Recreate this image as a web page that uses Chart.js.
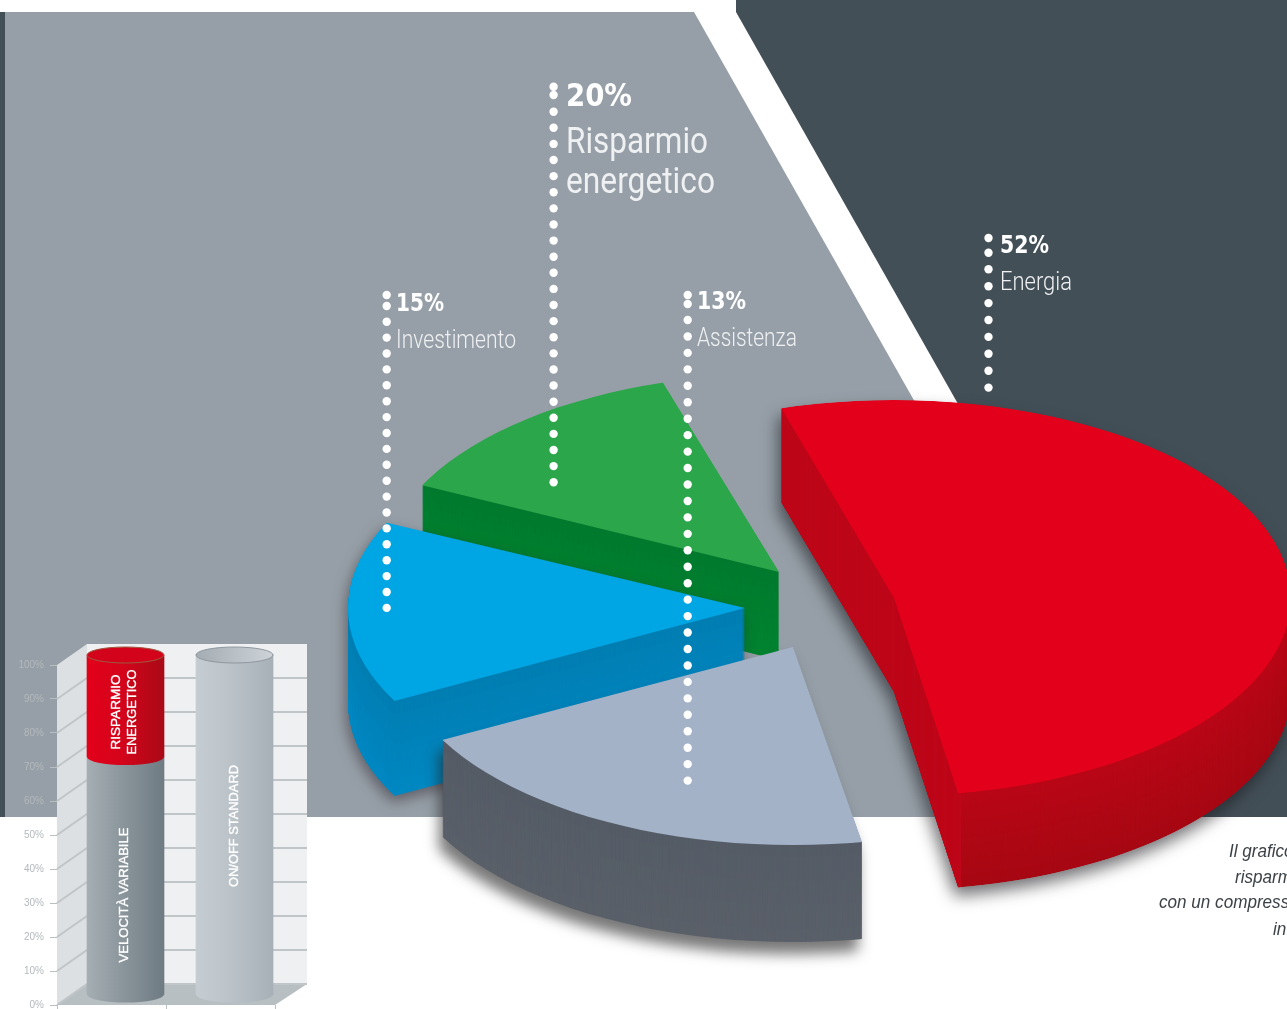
<!DOCTYPE html>
<html lang="it">
<head>
<meta charset="utf-8">
<title>Costi del compressore</title>
<script src="https://cdn.jsdelivr.net/npm/chart.js@4"></script>
<style>
  html, body { margin: 0; padding: 0; background: #fff; overflow: hidden; }
  #page { position: relative; width: 1287px; height: 1009px; overflow: hidden; }
  #pieChart { position: absolute; left: 0; top: 0; }
  #barChart { position: absolute; left: 0; top: 640px; }
</style>
</head>
<body>
<div id="page">
  <canvas id="pieChart" width="1287" height="1009"></canvas>
  <canvas id="barChart" width="320" height="377"></canvas>
</div>
<script>
// cost split
const costNames = ["Energia", "Assistenza", "Investimento", "Risparmio energetico"];
const costValues = [52, 13, 15, 20];

// small cylinder chart
const barCategories = ["Velocità variabile", "On/off standard"];
const baseValues = [70, 100];
const savingValues = [30, 0];
const yTicks = [0, 10, 20, 30, 40, 50, 60, 70, 80, 90, 100];
const captionLines = ["Il grafico", "risparmio", "con un compressore", "in"];

const TAU = Math.PI * 2;
const DEG = Math.PI / 180;
const FONT_BOLD = '"DejaVu Sans Condensed", "DejaVu Sans", sans-serif';
const FONT_LIGHT = 'Roboto, "Liberation Sans", sans-serif';

// every slice sits on the same tilted disc, pulled apart from the others
const discA = 397;
const discB = 198;
const sliceLook = [
  { x: 894, y: 598, depth: 94, top: "#e2001a", wall: ["#b90717", "#a60813"], innerWall: "#bd0719", innerX: 961,
    shadow: [-3, 9, 16, "rgba(25,25,30,0.6)"] },
  { x: 793, y: 647, from: 80, to: 152, depth: 97, top: "#a4b2c8", wall: ["#555c66", "#5a6069"],
    shadow: [-4, 12, 14, "rgba(30,30,30,0.6)"] },
  { x: 745, y: 608, from: 152, to: 205.5, depth: 95, top: "#00a6e3", wall: ["#007eb2", "#0088c2"],
    shadow: [-2, 6, 14, "rgba(40,30,40,0.5)"] },
  { x: 779, y: 572, from: 206, to: 253, depth: 88, top: "#2ca64a", wall: ["#007a2e", "#008431"] }
];
const paintOrder = [3, 2, 1, 0];

const labelLook = [
  { x: 1000, y: 253, w: 49, size: 24, nameX: 1000, nameY: 290, nameW: [72], nameSize: 25, nameWeight: 300 },
  { x: 697, y: 309, w: 49, size: 24, nameX: 697, nameY: 346, nameW: [100], nameSize: 25, nameWeight: 300 },
  { x: 396, y: 311, w: 48, size: 24, nameX: 396, nameY: 348, nameW: [120], nameSize: 25, nameWeight: 300 },
  { x: 566, y: 106, w: 66, size: 32, nameX: 566, nameY: 153, nameW: [142, 149], nameSize: 36, nameWeight: 400, lineGap: 40 }
];

const leaders = [
  { x: 988.5, head: [238, 252.7], first: 269.3, step: 16.9, count: 8 },
  { x: 687.7, head: [295, 304], first: 320, step: 16.45, count: 29 },
  { x: 386.7, head: [295, 306], first: 321.7, step: 15.9, count: 19 },
  { x: 553.6, head: [86.7, 95], first: 111.7, step: 16.11, count: 24 }
];

function mix(a, b, t) {
  const pa = parseInt(a.slice(1), 16), pb = parseInt(b.slice(1), 16);
  const ch = function (s) {
    const ca = (pa >> s) & 255, cb = (pb >> s) & 255;
    return Math.round(ca + (cb - ca) * t);
  };
  return "rgb(" + ch(16) + "," + ch(8) + "," + ch(0) + ")";
}

function drawText(ctx, text, x, y, font, color, width, sx) {
  ctx.save();
  ctx.font = font;
  ctx.fillStyle = color;
  ctx.textAlign = "left";
  ctx.textBaseline = "alphabetic";
  const scale = width ? width / ctx.measureText(text).width : (sx || 1);
  ctx.translate(x, y);
  ctx.scale(scale, 1);
  ctx.fillText(text, 0, 0);
  ctx.restore();
}

// matrix taking the arc's own radius onto the tilted disc
function sliceMatrix(arc, look) {
  const R = arc.outerRadius;
  if (look.from === undefined) {
    return [discA / R, 0, 0, discB / R];
  }
  const reach = 1.35;
  const s = arc.startAngle, e = arc.endAngle;
  const vfx = reach * discA * Math.cos(look.from * DEG), vfy = reach * discB * Math.sin(look.from * DEG);
  const vtx = reach * discA * Math.cos(look.to * DEG), vty = reach * discB * Math.sin(look.to * DEG);
  const usx = R * Math.cos(s), usy = R * Math.sin(s);
  const uex = R * Math.cos(e), uey = R * Math.sin(e);
  const det = usx * uey - uex * usy;
  return [
    (vfx * uey - vtx * usy) / det,
    (vfy * uey - vty * usy) / det,
    (vtx * usx - vfx * uex) / det,
    (vty * usx - vfy * uex) / det
  ];
}

function paintSlice(target, arc, look, m, drop, color) {
  const clone = Object.create(arc);
  clone.options = {
    backgroundColor: color, borderColor: color, borderWidth: 0, borderAlign: "center",
    borderRadius: 0, offset: 0, spacing: 0, circular: true
  };
  target.save();
  target.beginPath();
  target.ellipse(look.x, look.y + drop, discA, discB, 0, 0, TAU);
  target.clip();
  target.transform(m[0], m[1], m[2], m[3], look.x, look.y + drop);
  target.translate(-arc.x, -arc.y);
  clone.draw(target);
  target.restore();
}

const panelPlugin = {
  id: "panels",
  beforeDraw(chart) {
    const ctx = chart.ctx;
    ctx.save();
    ctx.fillStyle = "#ffffff";
    ctx.fillRect(0, 0, 1287, 1009);
    ctx.fillStyle = "#434f57";
    ctx.fillRect(0, 12, 6, 805);
    ctx.beginPath();
    ctx.moveTo(736, 0);
    ctx.lineTo(1287, 0);
    ctx.lineTo(1287, 817);
    ctx.lineTo(1192, 817);
    ctx.lineTo(736, 12);
    ctx.closePath();
    ctx.fill();
    ctx.fillStyle = "#969fa7";
    ctx.beginPath();
    ctx.moveTo(5, 12);
    ctx.lineTo(694, 12);
    ctx.lineTo(1150, 817);
    ctx.lineTo(5, 817);
    ctx.closePath();
    ctx.fill();
    ctx.restore();
  }
};

const solidPiePlugin = {
  id: "solidPie",
  beforeDatasetDraw(chart, args) {
    const arcs = chart.getDatasetMeta(args.index).data;
    paintOrder.forEach(function (i) {
      const look = sliceLook[i], arc = arcs[i];
      const m = sliceMatrix(arc, look);
      const layer = document.createElement("canvas");
      layer.width = chart.width;
      layer.height = chart.height;
      const lc = layer.getContext("2d");
      for (let k = look.depth; k >= 1; k--) {
        paintSlice(lc, arc, look, m, k, mix(look.wall[0], look.wall[1], k / look.depth));
      }
      if (look.innerWall) {
        lc.save();
        lc.beginPath();
        lc.rect(0, 0, look.innerX, chart.height);
        lc.clip();
        for (let k = look.depth; k >= 1; k--) {
          paintSlice(lc, arc, look, m, k, look.innerWall);
        }
        lc.restore();
      }
      paintSlice(lc, arc, look, m, 0, look.top);
      const ctx = chart.ctx;
      ctx.save();
      if (look.shadow) {
        ctx.shadowOffsetX = look.shadow[0];
        ctx.shadowOffsetY = look.shadow[1];
        ctx.shadowBlur = look.shadow[2];
        ctx.shadowColor = look.shadow[3];
      }
      ctx.drawImage(layer, 0, 0);
      ctx.restore();
    });
    return false;
  },
  afterDraw(chart) {
    const ctx = chart.ctx;
    // dotted leaders
    ctx.save();
    ctx.fillStyle = "#ffffff";
    leaders.forEach(function (l) {
      const ys = l.head.slice();
      for (let i = 0; i < l.count; i++) ys.push(l.first + i * l.step);
      ys.forEach(function (y) {
        ctx.beginPath();
        ctx.arc(l.x, y, 4.2, 0, TAU);
        ctx.fill();
      });
    });
    ctx.restore();
    // value and name next to each leader
    costNames.forEach(function (name, i) {
      const l = labelLook[i];
      drawText(ctx, costValues[i] + "%", l.x, l.y, "bold " + l.size + "px " + FONT_BOLD, "#ffffff", l.w);
      const lines = l.nameW.length > 1 ? name.split(" ") : [name];
      lines.forEach(function (line, n) {
        drawText(ctx, line, l.nameX, l.nameY + n * (l.lineGap || 0), l.nameWeight + " " + l.nameSize + "px " + FONT_LIGHT, "#eef0f2", l.nameW[n]);
      });
    });
    const capFont = 'italic 19px "Liberation Sans", sans-serif';
    drawText(ctx, captionLines[0], 1229, 857, capFont, "#3c4247", 0, 0.9);
    drawText(ctx, captionLines[1], 1235, 883, capFont, "#3c4247", 0, 0.9);
    drawText(ctx, captionLines[2], 1159, 908, capFont, "#3c4247", 0, 0.9);
    drawText(ctx, captionLines[3], 1273, 935, capFont, "#3c4247", 0, 0.9);
  }
};

new Chart(document.getElementById("pieChart"), {
  type: "pie",
  data: {
    labels: costNames,
    datasets: [{ data: costValues, backgroundColor: sliceLook.map(function (s) { return s.top; }), borderWidth: 0 }]
  },
  options: {
    responsive: false,
    animation: false,
    rotation: -16.5,
    plugins: { legend: { display: false }, tooltip: { enabled: false } }
  },
  plugins: [panelPlugin, solidPiePlugin]
});

// cylinder chart: bars are pushed back half the depth of the box
const boxDepthX = 30;
const boxDepthY = 21;
const barShiftX = 14;
const barShiftY = -10;
const barWidth = 77;
const capHeight = 8;
const baseStops = [["#a5aeb3", "#8b969c", "#6f7b83"], ["#c6cdd2", "#bbc3c9", "#a7b0b7"]];
const savingStops = ["#e3001a", "#d4041b", "#a90a16"];

function cylinderFill(chart, index, stops) {
  const cx = chart.scales.x.getPixelForValue(index);
  const g = chart.ctx.createLinearGradient(cx - barWidth / 2, 0, cx + barWidth / 2, 0);
  g.addColorStop(0, stops[0]);
  g.addColorStop(0.45, stops[1]);
  g.addColorStop(1, stops[2]);
  return g;
}

const boxPlugin = {
  id: "box",
  beforeDraw(chart) {
    const ctx = chart.ctx, a = chart.chartArea, y = chart.scales.y;
    const bx = a.left + boxDepthX;
    const rightEdge = 307;
    ctx.save();
    ctx.fillStyle = "#eff0f2";
    ctx.fillRect(bx, a.top - boxDepthY, rightEdge - bx, a.bottom - a.top);
    ctx.fillStyle = "#dce0e3";
    ctx.beginPath();
    ctx.moveTo(a.left, a.top);
    ctx.lineTo(bx, a.top - boxDepthY);
    ctx.lineTo(bx, a.bottom - boxDepthY);
    ctx.lineTo(a.left, a.bottom);
    ctx.closePath();
    ctx.fill();
    ctx.fillStyle = "#b8bfc3";
    ctx.beginPath();
    ctx.moveTo(a.left, a.bottom);
    ctx.lineTo(bx, a.bottom - boxDepthY);
    ctx.lineTo(rightEdge, a.bottom - boxDepthY);
    ctx.lineTo(a.right, a.bottom);
    ctx.closePath();
    ctx.fill();
    ctx.strokeStyle = "#c0c5c8";
    ctx.lineWidth = 2;
    yTicks.forEach(function (v) {
      if (v === 100) return;
      const py = y.getPixelForValue(v);
      ctx.beginPath();
      ctx.moveTo(a.left, py);
      ctx.lineTo(bx, py - boxDepthY);
      ctx.lineTo(rightEdge, py - boxDepthY);
      ctx.stroke();
    });
    ctx.restore();
  },
  beforeDatasetDraw(chart) {
    chart.ctx.save();
    chart.ctx.translate(barShiftX, barShiftY);
  },
  afterDatasetDraw(chart) {
    chart.ctx.restore();
  },
  afterDatasetsDraw(chart) {
    const ctx = chart.ctx;
    const base = chart.getDatasetMeta(0).data;
    const saving = chart.getDatasetMeta(1).data;
    ctx.save();
    ctx.translate(barShiftX, barShiftY);
    barCategories.forEach(function (c, i) {
      const bar = base[i];
      ctx.fillStyle = cylinderFill(chart, i, baseStops[i]);
      ctx.beginPath();
      ctx.ellipse(bar.x, bar.base, barWidth / 2, capHeight, 0, 0, TAU);
      ctx.fill();
      if (savingValues[i] > 0) {
        const red = saving[i];
        ctx.fillStyle = cylinderFill(chart, i, savingStops);
        ctx.beginPath();
        ctx.ellipse(red.x, red.base, barWidth / 2, capHeight, 0, 0, TAU);
        ctx.fill();
        ctx.fillStyle = "#d3031c";
        ctx.strokeStyle = "#9c5a3f";
        ctx.beginPath();
        ctx.ellipse(red.x, red.y, barWidth / 2, capHeight, 0, 0, TAU);
        ctx.fill();
        ctx.stroke();
      } else {
        const top = ctx.createLinearGradient(bar.x - barWidth / 2, 0, bar.x + barWidth / 2, 0);
        top.addColorStop(0, "#a4adb3");
        top.addColorStop(1, "#cdd3d8");
        ctx.fillStyle = top;
        ctx.strokeStyle = "#8f989e";
        ctx.beginPath();
        ctx.ellipse(bar.x, bar.y, barWidth / 2, capHeight, 0, 0, TAU);
        ctx.fill();
        ctx.stroke();
      }
    });
    ctx.restore();
    const font = '13.5px "Liberation Sans", sans-serif';
    upText(ctx, "VELOCITÀ VARIABILE", 124, 895, font, 135);
    upText(ctx, "ON/OFF STANDARD", 234, 826, font, 122);
    upText(ctx, "RISPARMIO", 116, 712, font, 75);
    upText(ctx, "ENERGETICO", 132, 712, font, 85);
  }
};

// page coordinates, rotated to read bottom to top
function upText(ctx, text, x, pageY, font, width) {
  ctx.save();
  ctx.translate(x, pageY - 640);
  ctx.rotate(-Math.PI / 2);
  ctx.font = font;
  ctx.textAlign = "center";
  ctx.textBaseline = "middle";
  ctx.fillStyle = "#ffffff";
  ctx.strokeStyle = "#ffffff";
  ctx.lineWidth = 0.35;
  ctx.scale(width / ctx.measureText(text).width, 1);
  ctx.fillText(text, 0, 0);
  ctx.strokeText(text, 0, 0);
  ctx.restore();
}

new Chart(document.getElementById("barChart"), {
  type: "bar",
  data: {
    labels: barCategories,
    datasets: [
      {
        label: "Base",
        data: baseValues,
        clip: false,
        barThickness: barWidth,
        borderWidth: 0,
        backgroundColor: function (c) {
          return c.chart.chartArea ? cylinderFill(c.chart, c.dataIndex, baseStops[c.dataIndex]) : "#8b969c";
        }
      },
      {
        label: "Risparmio energetico",
        data: savingValues,
        clip: false,
        barThickness: barWidth,
        borderWidth: 0,
        backgroundColor: function (c) {
          return c.chart.chartArea ? cylinderFill(c.chart, c.dataIndex, savingStops) : "#d4041b";
        }
      }
    ]
  },
  options: {
    responsive: false,
    animation: false,
    layout: { padding: { left: 0, right: 45, top: 25, bottom: 0 } },
    plugins: { legend: { display: false }, tooltip: { enabled: false } },
    scales: {
      x: {
        stacked: true,
        border: { display: false },
        grid: { drawOnChartArea: false, tickLength: 4, color: "#b9bec1" },
        ticks: { display: false },
        afterFit: function (s) { s.height = 5; }
      },
      y: {
        stacked: true,
        min: 0,
        max: 100,
        border: { display: false },
        grid: { drawOnChartArea: false, tickLength: 7, color: "#b9bec1" },
        afterFit: function (s) { s.width = 57; },
        afterBuildTicks: function (s) { s.ticks = yTicks.map(function (v) { return { value: v }; }); },
        ticks: {
          padding: 6,
          color: "#b4b9bc",
          font: { size: 10, family: "Liberation Sans" },
          callback: function (v) { return v + "%"; }
        }
      }
    }
  },
  plugins: [boxPlugin]
});
</script>
</body>
</html>
